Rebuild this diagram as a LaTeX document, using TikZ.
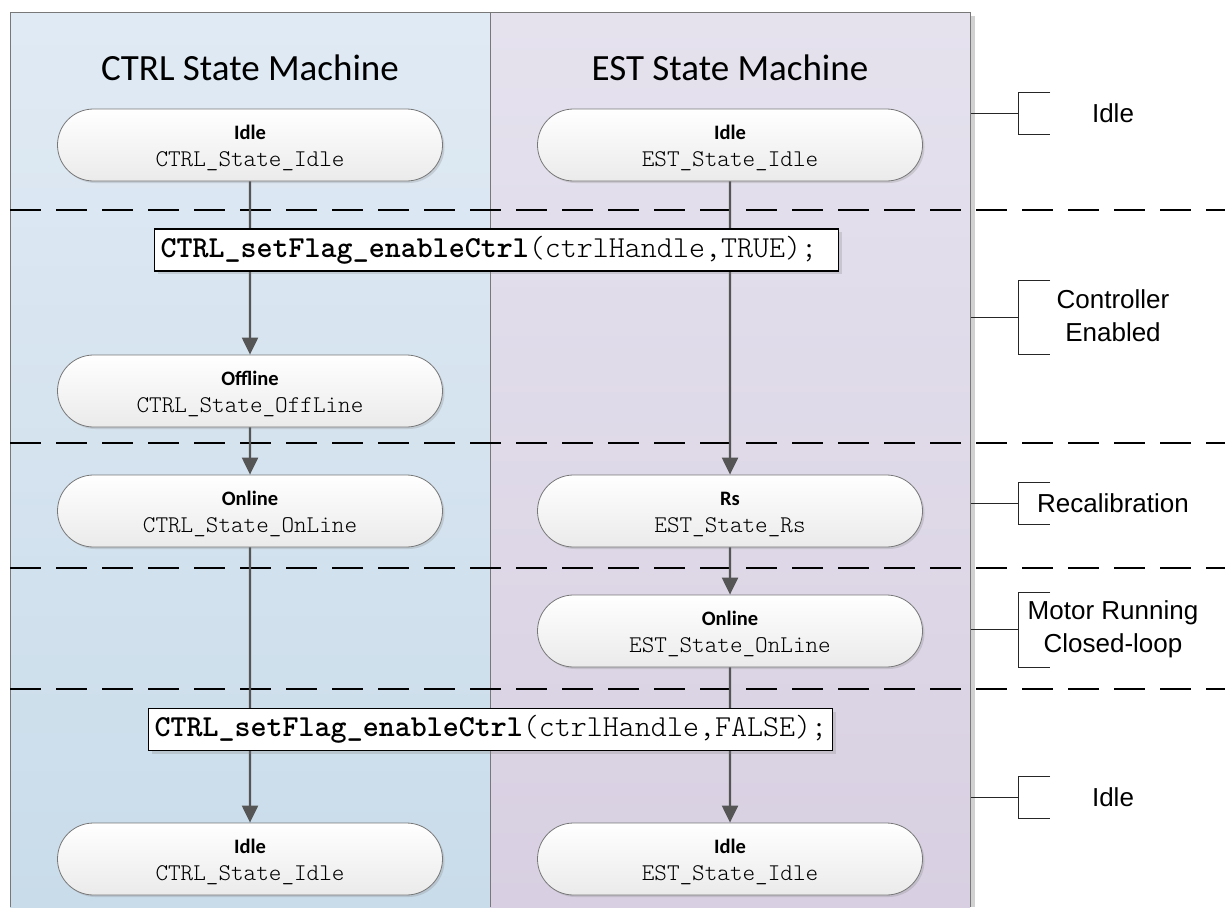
\documentclass[tikz,border=0pt]{standalone}
\usepackage{fontspec}
\setmainfont{Carlito}
\newfontfamily\arialf{Liberation Sans}
\usetikzlibrary{shapes.misc,arrows.meta,shadows}
\newcommand{\mymono}{\ttfamily\fontseries{l}\selectfont\fontsize{24}{27}\selectfont}
\newcommand{\sttl}[1]{\rule{0pt}{21pt}\textbf{#1}}
\definecolor{laneAtop}{RGB}{224,234,244}
\definecolor{laneAbot}{RGB}{201,220,234}
\definecolor{laneBtop}{RGB}{229,226,238}
\definecolor{laneBbot}{RGB}{216,208,226}
\definecolor{flowgray}{RGB}{85,85,85}
\definecolor{bordergray}{RGB}{120,120,120}
\begin{document}
\begin{tikzpicture}[x=1pt,y=-1pt,
  statebox/.style={rounded rectangle, rounded rectangle arc length=180,
    minimum width=385pt, minimum height=72pt, inner sep=0pt,
    draw=bordergray, line width=0.8pt, top color=white, bottom color=black!8,
    drop shadow={shadow xshift=2pt, shadow yshift=-2pt, opacity=0.25, fill=black!50},
    align=center, font=\fontsize{20.5}{27}\selectfont},
  codebox/.style={draw=black, line width=1.2pt, fill=white, anchor=west,
    minimum height=42pt, text width=672pt, inner xsep=6pt, align=left,
    drop shadow={shadow xshift=3pt, shadow yshift=-3pt, opacity=0.25, fill=black!50},
    font=\ttfamily\fontsize{30.5}{32}\selectfont},
  flow/.style={draw=flowgray, line width=2.2pt, -{Triangle[length=17pt,width=16pt]}},
  sep/.style={draw=black, line width=1.8pt, dash pattern=on 31pt off 15pt},
  brack/.style={draw=black!85, line width=1pt},
  lanetitle/.style={font=\fontsize{37}{42}\selectfont, anchor=base},
  phase/.style={font=\arialf\fontsize{26}{33}\selectfont, align=center}
]
\useasboundingbox (0,0) rectangle (1225,907);
\fill[white] (0,0) rectangle (1225,907);
% lanes
\fill[black!18] (970,16) rectangle (975,907);
\shade[top color=laneAtop, bottom color=laneAbot] (10,13) rectangle (490,907);
\shade[top color=laneBtop, bottom color=laneBbot] (490,13) rectangle (970,907);
\draw[bordergray, line width=1pt] (10,907) -- (10,13) -- (970,13) -- (970,907);
\draw[bordergray, line width=1pt] (490,13) -- (490,907);
\node[lanetitle] (tA) at (250,81) {CTRL State Machine};
\node[lanetitle] (tB) at (730,81) {EST State Machine};
% separators
\foreach \yy in {210,443,568,689} \draw[sep] (10,\yy) -- (1225,\yy);
% states
\node[statebox] (idleA) at (250,145) {\sttl{Idle}\\{\mymono CTRL\_State\_Idle}};
\node[statebox] (idleB) at (730,145) {\sttl{Idle}\\{\mymono EST\_State\_Idle}};
\node[statebox] (offA) at (250,391) {\sttl{Offline}\\{\mymono CTRL\_State\_OffLine}};
\node[statebox] (onA) at (250,511) {\sttl{Online}\\{\mymono CTRL\_State\_OnLine}};
\node[statebox] (rsB) at (730,511) {\sttl{Rs}\\{\mymono EST\_State\_Rs}};
\node[statebox] (onB) at (730,631) {\sttl{Online}\\{\mymono EST\_State\_OnLine}};
\node[statebox] (endA) at (250,859) {\sttl{Idle}\\{\mymono CTRL\_State\_Idle}};
\node[statebox] (endB) at (730,859) {\sttl{Idle}\\{\mymono EST\_State\_Idle}};
% flows
\draw[flow] (idleA) -- (offA);
\draw[flow] (offA) -- (onA);
\draw[flow] (onA) -- (endA);
\draw[flow] (idleB) -- (rsB);
\draw[flow] (rsB) -- (onB);
\draw[flow] (onB) -- (endB);
% code boxes
\node[codebox] (enT) at (154,250) {{\bfseries CTRL\_setFlag\_enableCtrl}{\fontseries{l}\selectfont(ctrlHandle,TRUE);}};
\node[codebox] (enF) at (148,729.5) {{\bfseries CTRL\_setFlag\_enableCtrl}{\fontseries{l}\selectfont(ctrlHandle,FALSE);}};
% phase brackets
\coordinate (b1) at (971,113);
\draw[brack] (b1) -- (1018,113) (1050,92) -- (1018,92) -- (1018,134) -- (1050,134);
\node[phase] (p1) at (1113,113) {Idle};
\coordinate (b2) at (971,317);
\draw[brack] (b2) -- (1018,317) (1050,280) -- (1018,280) -- (1018,354) -- (1050,354);
\node[phase] (p2) at (1113,316) {Controller\\Enabled};
\coordinate (b3) at (971,503);
\draw[brack] (b3) -- (1018,503) (1050,482) -- (1018,482) -- (1018,524) -- (1050,524);
\node[phase] (p3) at (1113,503) {Recalibration};
\coordinate (b4) at (971,629);
\draw[brack] (b4) -- (1018,629) (1050,592) -- (1018,592) -- (1018,667) -- (1050,667);
\node[phase] (p4) at (1113,629) {Motor Running\\Closed-loop};
\coordinate (b5) at (971,797);
\draw[brack] (b5) -- (1018,797) (1050,776) -- (1018,776) -- (1018,818) -- (1050,818);
\node[phase] (p5) at (1113,797) {Idle};
\end{tikzpicture}
\end{document}
